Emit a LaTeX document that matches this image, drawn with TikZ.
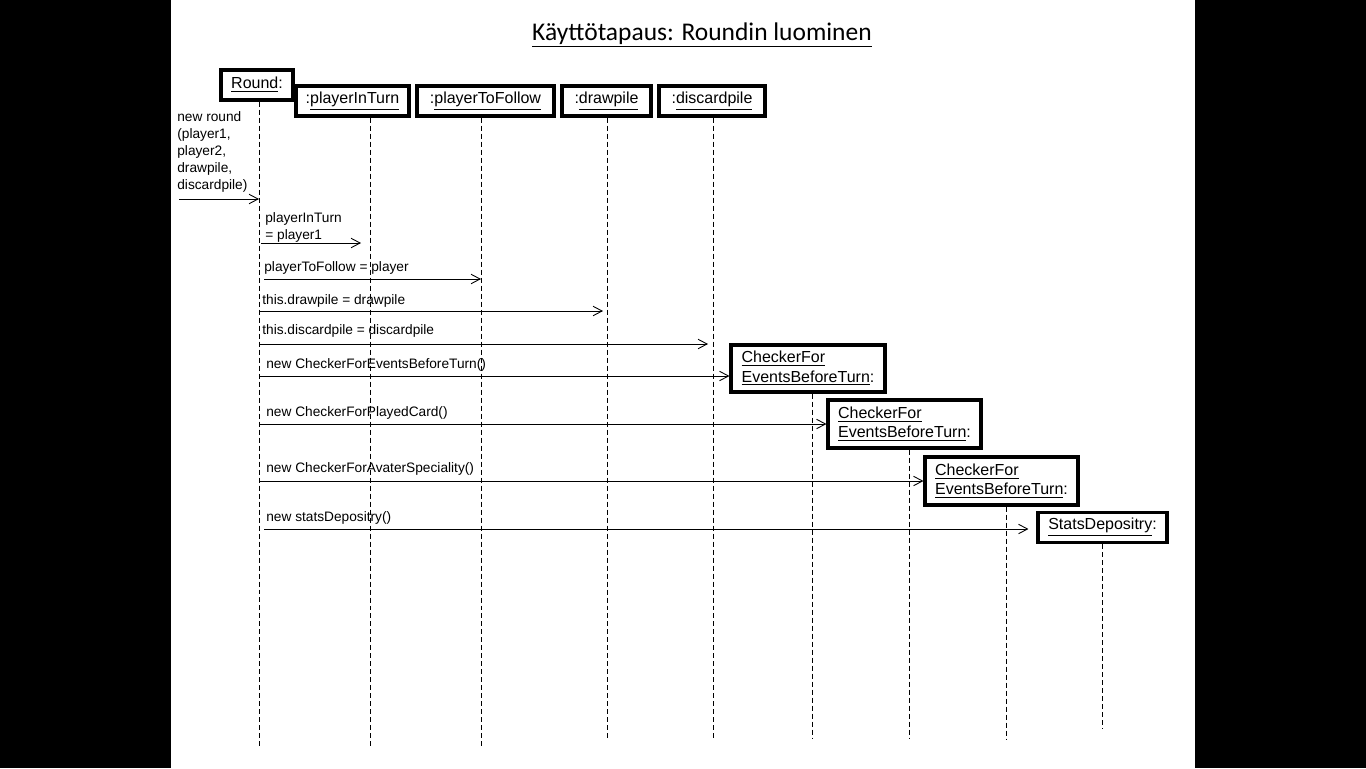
\documentclass[tikz,border=0pt]{standalone}
\usepackage{fontspec}
\setmainfont{Liberation Sans}
\newfontfamily\titlefont{Carlito}
\usetikzlibrary{arrows.meta}
\begin{document}
\begin{tikzpicture}[x=0.02cm,y=-0.02cm]
\tikzstyle{every node}+=[inner sep=0pt]
\tikzstyle{obj}=[draw,line width=1.8pt,font=\fontsize{9.1}{11}\selectfont,minimum height=0.6cm,align=left]
\tikzstyle{life}=[dash pattern=on 0.1cm off 0.06cm,line width=0.5pt]
\tikzstyle{msg}=[line width=0.5pt,-{Straight Barb[length=0.18cm,width=0.19cm]}]
\tikzstyle{lbl}=[font=\fontsize{7.8}{9.64}\selectfont,align=left,anchor=base west]
\fill [black] (0,0) rectangle (1366,768);
\fill [white] (171,0) rectangle (1195,768);
\node [font=\titlefont\fontsize{14.5}{16}\selectfont] (title) at (702,40) [anchor=base] {\underline{Käyttötapaus: Roundin luominen}};
\node [obj,minimum width=1.44cm] (Round) at (257,85) {\underline{Round}:};
\node [obj,minimum width=2.26cm] (inturn) at (352.5,101) {:\underline{playerInTurn}};
\node [obj,minimum width=2.74cm] (follow) at (485.5,101) {:\underline{playerToFollow}};
\node [obj,minimum width=1.78cm] (drawp) at (606.5,101) {:\underline{drawpile}};
\node [obj,minimum width=2.12cm] (discard) at (712,101) {:\underline{discardpile}};
\node [obj,minimum width=3.08cm,minimum height=0.94cm] (chkA) at (808,368.5) {\underline{CheckerFor}\\\underline{EventsBeforeTurn}:};
\node [obj,minimum width=3.06cm,minimum height=0.96cm] (chkB) at (904.5,424) {\underline{CheckerFor}\\\underline{EventsBeforeTurn}:};
\node [obj,minimum width=3.06cm,minimum height=0.96cm] (chkC) at (1001.5,481) {\underline{CheckerFor}\\\underline{EventsBeforeTurn}:};
\node [obj,minimum width=2.58cm] (stats) at (1102.5,527.5) {\underline{StatsDepositry}:};
\coordinate (eRound) at (259,747);
\coordinate (einturn) at (370,746);
\coordinate (efollow) at (481,746);
\coordinate (edrawp) at (607,739);
\coordinate (ediscard) at (713,739);
\coordinate (echkA) at (812,739);
\coordinate (echkB) at (909,739);
\coordinate (echkC) at (1006,739);
\coordinate (estats) at (1102,729);
\draw [life] (Round.south -| eRound) -- (eRound);
\draw [life] (inturn.south -| einturn) -- (einturn);
\draw [life] (follow.south -| efollow) -- (efollow);
\draw [life] (drawp.south -| edrawp) -- (edrawp);
\draw [life] (discard.south -| ediscard) -- (ediscard);
\draw [life] (chkA.south -| echkA) -- (echkA);
\draw [life] (chkB.south -| echkB) -- (echkB);
\draw [life] (chkC.south -| echkC) -- (echkC);
\draw [life] (stats.south -| estats) -- (estats);
\coordinate (start) at (179,199);
\node [lbl] (l1) at (177,189) {new round\\(player1,\\player2,\\drawpile,\\discardpile)};
\draw [msg] (start) -- (eRound |- start);
\node [lbl] (l2) at (265,239) {playerInTurn\\= player1};
\draw [msg,shorten <=0.04cm,shorten >=0.18cm] (eRound |- 0,243) -- (einturn |- 0,243);
\node [lbl] (l3) at (264,271) {playerToFollow = player};
\draw [msg,shorten <=0.1cm] (eRound |- 0,279) -- (efollow |- 0,279);
\node [lbl] (l4) at (262,304) {this.drawpile = drawpile};
\draw [msg,shorten >=0.08cm] (eRound |- 0,311) -- (edrawp |- 0,311);
\node [lbl] (l5) at (262,334) {this.discardpile = discardpile};
\draw [msg,shorten >=0.1cm] (eRound |- 0,344) -- (ediscard |- 0,344);
\node [lbl] (l6) at (266,368) {new CheckerForEventsBeforeTurn()};
\draw [msg] (eRound |- 0,376) -- (chkA.west |- 0,376);
\node [lbl] (l7) at (266,416) {new CheckerForPlayedCard()};
\draw [msg] (eRound |- 0,424) -- (chkB.west |- 0,424);
\node [lbl] (l8) at (266,472) {new CheckerForAvaterSpeciality()};
\draw [msg] (eRound |- 0,481) -- (chkC.west |- 0,481);
\node [lbl] (l9) at (266,521) {new statsDepositry()};
\draw [msg,shorten <=0.1cm,shorten >=0.16cm] (eRound |- 0,529) -- (stats.west |- 0,529);
\end{tikzpicture}
\end{document}
